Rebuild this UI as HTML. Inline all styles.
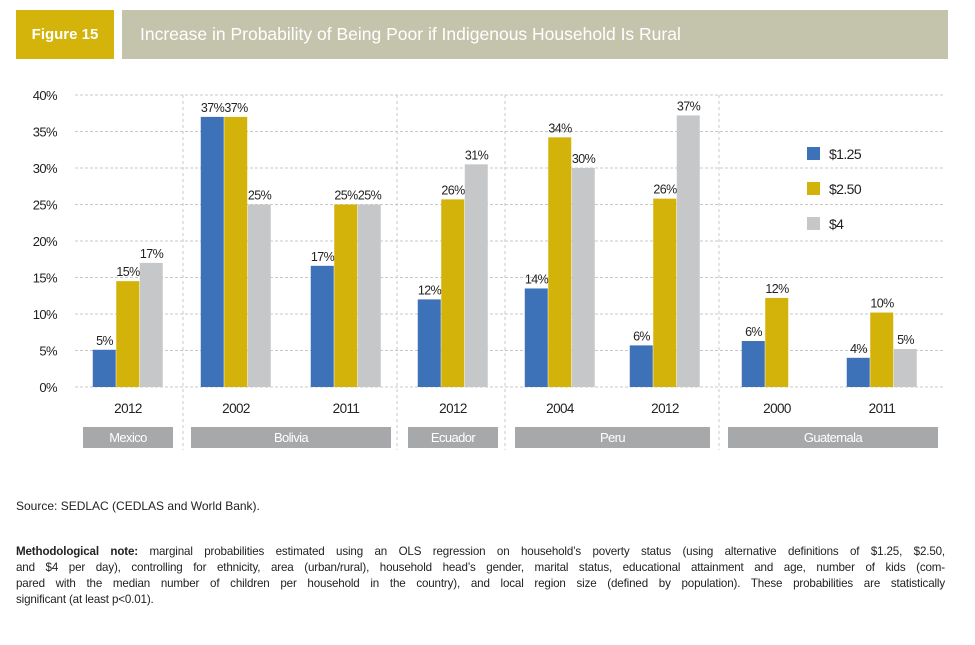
<!DOCTYPE html>
<html><head><meta charset="utf-8"><style>
body{margin:0;width:975px;height:645px;background:#fff;font-family:"Liberation Sans",sans-serif;position:relative;overflow:hidden}
.abs{position:absolute}
svg text{letter-spacing:-0.6px}
.note div{text-align:justify;text-align-last:justify;white-space:nowrap;height:16px;line-height:16px;letter-spacing:-0.15px}
</style></head><body>
<div class="abs" style="left:16px;top:10px;width:98px;height:49px;background:#d4b40a;color:#fff;font-weight:bold;font-size:15px;line-height:49px;text-align:center">Figure 15</div>
<div class="abs" style="left:122px;top:10px;width:826px;height:49px;background:#c4c4ad;color:#fff;font-size:17.5px;line-height:49px;padding-left:18px;box-sizing:border-box">Increase in Probability of Being Poor if Indigenous Household Is Rural</div>
<svg class="abs" style="left:0;top:0" width="975" height="470" id="chart"></svg>
<div class="abs" style="left:16px;top:499px;font-size:12px;color:#222">Source: SEDLAC (CEDLAS and World Bank).</div>
<div class="abs note" style="left:16px;top:544px;width:929px;font-size:11.6px;color:#222">
<div><b>Methodological note:</b> marginal probabilities estimated using an OLS regression on household’s poverty status (using alternative definitions of $1.25, $2.50,</div>
<div>and $4 per day), controlling for ethnicity, area (urban/rural), household head’s gender, marital status, educational attainment and age, number of kids (com-</div>
<div>pared with the median number of children per household in the country), and local region size (defined by population). These probabilities are statistically</div>
<div style="text-align-last:left">significant (at least p&lt;0.01).</div>
</div>
<script>
const years=["2012","2002","2011","2012","2004","2012","2000","2011"];
const s125=[5.1,37,16.6,12,13.5,5.7,6.3,4];
const s250=[14.5,37,25,25.7,34.2,25.8,12.2,10.2];
const s4=[17,25,25,30.5,30,37.2,null,5.2];
const lab125=["5%","37%","17%","12%","14%","6%","6%","4%"];
const lab250=["15%","37%","25%","26%","34%","26%","12%","10%"];
const lab4=["17%","25%","25%","31%","30%","37%","","5%"];
const countries=["Mexico","Bolivia","Ecuador","Peru","Guatemala"];
const countryGroups=[[0],[1,2],[3],[4,5],[6,7]];
const yTicks=[0,5,10,15,20,25,30,35,40];
const ns="http://www.w3.org/2000/svg",svg=document.getElementById('chart');
const y0=387,yTop=95,yMax=40;
const y=v=>y0-(v/yMax)*(y0-yTop);
const centers=[128,236,346,453,560,665,777,882];
const bw=23.5;
function el(t,a,txt){const e=document.createElementNS(ns,t);for(const k in a)e.setAttribute(k,a[k]);if(txt!==undefined)e.textContent=txt;svg.appendChild(e);return e;}
yTicks.forEach(t=>{
 const l=el('line',{x1:75,x2:945,y1:y(t),y2:y(t),stroke:'#c8c8c8','stroke-dasharray':'3,2'});
 
 
 const tx=el('text',{x:57,y:y(t)+5,'text-anchor':'end','font-size':13,fill:'#222'},t+'%');
 
 
});
[183,397,505,719].forEach(x=>{
 const l=el('line',{x1:x,x2:x,y1:yTop,y2:450,stroke:'#c8c8c8','stroke-dasharray':'3,3'});
 
 
});
const series=[[s125,'#3d72b8',lab125,'usd125'],[s250,'#d3b20a',lab250,'usd250'],[s4,'#c5c7c8',lab4,'usd4']];
years.forEach((yr,i)=>{
 series.forEach((s,j)=>{
  const v=s[0][i];if(v===null)return;
  const x=centers[i]-1.5*bw+j*bw;
  const r=el('rect',{x:x,y:y(v),width:bw-0.5,height:y0-y(v),fill:s[1]});
  
  
  const t=el('text',{x:x+bw/2,y:y(v)-5,'text-anchor':'middle','font-size':12.5,fill:'#222'},s[2][i]);
  
  
 });
 const t=el('text',{x:centers[i],y:413,'text-anchor':'middle','font-size':13.5,fill:'#222'},yr);
 
 
});
countries.forEach((c,k)=>{
 const g=countryGroups[k];
 const x1=centers[g[0]]-45-(k==4?4:0),x2=centers[g[g.length-1]]+45+(k==4?11:0);
 const r=el('rect',{x:x1,y:427,width:x2-x1,height:21,fill:'#a7a8aa'});
 
 
 const t=el('text',{x:(x1+x2)/2,y:442,'text-anchor':'middle','font-size':13,fill:'#fff'},c);
 
 
});
[['$1.25','#3d72b8'],['$2.50','#d3b20a'],['$4','#c5c7c8']].forEach((l,k)=>{
 const r=el('rect',{x:807,y:147+k*35,width:13,height:13,fill:l[1]});
 
 
 const t=el('text',{x:829,y:159+k*35,'font-size':14,fill:'#222'},l[0]);
 
 
});
</script>
</body></html>
